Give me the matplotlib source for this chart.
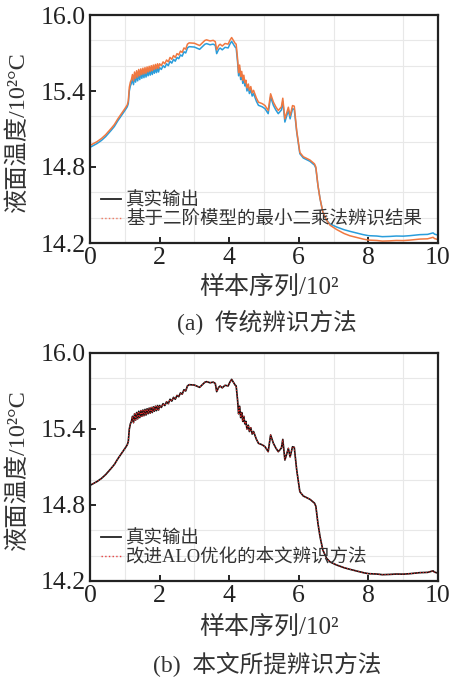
import numpy as np
import matplotlib
matplotlib.use('Agg')
import matplotlib.pyplot as plt
from matplotlib.lines import Line2D

plt.rcParams['font.family'] = ['Liberation Serif', 'Noto Sans CJK SC']

# sample index / 100
x_vals = [0.00, 0.10, 0.20, 0.33, 0.45, 0.61, 0.70, 0.80, 0.90, 1.00,
          1.07, 1.10, 1.13, 1.16, 1.19, 1.22, 1.25, 1.28, 1.31, 1.34,
          1.37, 1.40, 1.43, 1.46, 1.49, 1.52, 1.55, 1.58, 1.61, 1.64,
          1.67, 1.70, 1.73, 1.76, 1.79, 1.82, 1.85, 1.88, 1.91, 1.94,
          1.97, 2.00, 2.05, 2.10, 2.15, 2.20, 2.25, 2.30, 2.35, 2.40,
          2.45, 2.50, 2.55, 2.60, 2.65, 2.70, 2.75, 2.80, 2.85, 3.00,
          3.10, 3.15, 3.30, 3.35, 3.45, 3.54, 3.60, 3.64, 3.70, 3.74,
          3.80, 3.88, 3.97, 4.02, 4.07, 4.12, 4.17, 4.20, 4.24, 4.27,
          4.30, 4.33, 4.36, 4.39, 4.42, 4.45, 4.48, 4.51, 4.55, 4.58,
          4.62, 4.66, 4.70, 4.74, 4.78, 4.84, 4.95, 5.03, 5.12, 5.19,
          5.27, 5.34, 5.41, 5.50, 5.54, 5.60, 5.65, 5.70, 5.75, 5.82,
          5.87, 5.94, 6.03, 6.13, 6.32, 6.45, 6.49, 6.55, 6.61, 6.69,
          6.80, 6.90, 7.09, 7.30, 7.47, 7.65, 7.85, 8.00, 8.24, 8.40,
          8.62, 8.80, 9.00, 9.20, 9.48, 9.70, 9.86, 9.90, 10.00]

# true output (10^2 °C)
true_vals = [14.955, 14.970, 14.985, 15.010, 15.040, 15.090, 15.120, 15.165, 15.205, 15.245,
             15.275, 15.300, 15.400, 15.440, 15.460, 15.500, 15.450, 15.520, 15.470, 15.530,
             15.480, 15.540, 15.490, 15.545, 15.500, 15.550, 15.505, 15.555, 15.510, 15.560,
             15.520, 15.565, 15.525, 15.570, 15.530, 15.575, 15.540, 15.580, 15.545, 15.585,
             15.550, 15.585, 15.570, 15.600, 15.585, 15.615, 15.600, 15.635, 15.620, 15.650,
             15.635, 15.665, 15.655, 15.685, 15.675, 15.710, 15.700, 15.740, 15.750, 15.747,
             15.735, 15.729, 15.769, 15.774, 15.765, 15.770, 15.760, 15.695, 15.730, 15.739,
             15.725, 15.745, 15.740, 15.770, 15.792, 15.770, 15.747, 15.740, 15.630, 15.520,
             15.580, 15.490, 15.530, 15.460, 15.500, 15.440, 15.460, 15.400, 15.430, 15.380,
             15.410, 15.360, 15.380, 15.350, 15.320, 15.287, 15.275, 15.260, 15.221, 15.353,
             15.287, 15.250, 15.221, 15.250, 15.318, 15.155, 15.200, 15.247, 15.180, 15.260,
             15.255, 15.076, 14.905, 14.871, 14.845, 14.815, 14.790, 14.655, 14.550, 14.445,
             14.379, 14.350, 14.326, 14.305, 14.292, 14.280, 14.266, 14.258, 14.255, 14.250,
             14.252, 14.255, 14.254, 14.258, 14.266, 14.268, 14.280, 14.270, 14.262]

# least squares (second-order model) identification result
ls_vals = [14.970, 14.985, 15.000, 15.025, 15.055, 15.105, 15.135, 15.180, 15.220, 15.260,
           15.290, 15.320, 15.430, 15.470, 15.490, 15.530, 15.480, 15.550, 15.500, 15.560,
           15.510, 15.570, 15.520, 15.575, 15.530, 15.580, 15.535, 15.585, 15.540, 15.590,
           15.550, 15.595, 15.555, 15.600, 15.560, 15.605, 15.570, 15.610, 15.575, 15.615,
           15.580, 15.615, 15.600, 15.630, 15.615, 15.645, 15.630, 15.665, 15.650, 15.680,
           15.665, 15.695, 15.685, 15.715, 15.705, 15.740, 15.730, 15.770, 15.780, 15.777,
           15.765, 15.759, 15.799, 15.804, 15.795, 15.800, 15.790, 15.725, 15.760, 15.769,
           15.755, 15.775, 15.770, 15.800, 15.822, 15.800, 15.777, 15.770, 15.655, 15.545,
           15.605, 15.515, 15.555, 15.485, 15.525, 15.465, 15.485, 15.425, 15.455, 15.405,
           15.435, 15.385, 15.405, 15.375, 15.345, 15.312, 15.300, 15.285, 15.246, 15.378,
           15.312, 15.275, 15.246, 15.275, 15.343, 15.180, 15.225, 15.272, 15.205, 15.285,
           15.280, 15.086, 14.915, 14.881, 14.855, 14.825, 14.800, 14.655, 14.550, 14.445,
           14.379, 14.340, 14.306, 14.275, 14.257, 14.245, 14.231, 14.223, 14.220, 14.215,
           14.217, 14.220, 14.219, 14.223, 14.231, 14.233, 14.245, 14.235, 14.227]

# improved ALO result (overlays the true output)
alo_vals = list(true_vals)

x_ticks = [0, 2, 4, 6, 8, 10]
y_ticks = [14.2, 14.8, 15.4, 16.0]

fig = plt.figure(figsize=(4.52, 6.77), dpi=100)
W, H = 452, 677
TXT = '#333333'


def style_axes(ax):
    ax.set_xlim(0, 10)
    ax.set_ylim(14.2, 16.0)
    ax.set_xticks(x_ticks)
    ax.set_xticklabels([str(t) for t in x_ticks])
    ax.set_yticks(y_ticks)
    ax.set_yticklabels(['%.1f' % t for t in y_ticks])
    ax.set_xticks(np.arange(0, 11, 1), minor=True)
    ax.set_yticks(np.arange(14.2, 16.01, 0.2), minor=True)
    ax.tick_params(which='major', direction='in', length=4, width=1.2,
                   labelsize=18.5, top=False, right=False, pad=3,
                   labelcolor='#222222')
    ax.tick_params(which='minor', length=0)
    ax.grid(which='minor', color='#e8e8e8', linewidth=0.8)
    ax.set_axisbelow(True)
    for s in ax.spines.values():
        s.set_linewidth(1.6)
        s.set_color('#222222')


def add_legend(ax, handles, labels):
    ax.legend(handles, labels, loc='lower left', bbox_to_anchor=(0.0, 0.015),
              frameon=False, fontsize=13.3, handlelength=1.1,
              handletextpad=0.25, labelspacing=0.1, borderaxespad=0.2,
              labelcolor=TXT)


# ---------------------------
# (a) traditional identification
# ---------------------------
ax1 = fig.add_axes([90 / W, (H - 243) / H, 348 / W, 228 / H])
style_axes(ax1)
ax1.plot(x_vals, true_vals, color='#2a9ddb', linewidth=1.1)
ax1.plot(x_vals, ls_vals, color='#f07840', linewidth=1.1)
h1 = [Line2D([], [], color='#222222', linewidth=1.3),
      Line2D([], [], color='#f07860', linewidth=1.0, linestyle=':')]
add_legend(ax1, h1, ['真实输出', '基于二阶模型的最小二乘法辨识结果'])

fig.text(18 / W, 1 - 132 / H, '液面温度/10²°C', rotation=90,
         ha='center', va='center', fontsize=17.5, color=TXT)
fig.text(269 / W, 1 - 287 / H, '样本序列/10²', ha='center', va='center',
         fontsize=18, color=TXT)
fig.text(267 / W, 1 - 322 / H, '(a)  传统辨识方法', ha='center', va='center',
         fontsize=17, color=TXT)

# ---------------------------
# (b) proposed method
# ---------------------------
ax2 = fig.add_axes([90 / W, (H - 581) / H, 348 / W, 228 / H])
style_axes(ax2)
ax2.plot(x_vals, true_vals, color='#111111', linewidth=1.2)
ax2.plot(x_vals, alo_vals, color='#e02828', linewidth=0.8, linestyle=':')
h2 = [Line2D([], [], color='#222222', linewidth=1.3),
      Line2D([], [], color='#e84040', linewidth=1.0, linestyle=':')]
add_legend(ax2, h2, ['真实输出', '改进ALO优化的本文辨识方法'])

fig.text(18 / W, 1 - 470 / H, '液面温度/10²°C', rotation=90,
         ha='center', va='center', fontsize=17.5, color=TXT)
fig.text(269 / W, 1 - 627 / H, '样本序列/10²', ha='center', va='center',
         fontsize=18, color=TXT)
fig.text(267 / W, 1 - 664 / H, '(b)  本文所提辨识方法', ha='center', va='center',
         fontsize=17, color=TXT)

plt.savefig('out.png', dpi=100)
